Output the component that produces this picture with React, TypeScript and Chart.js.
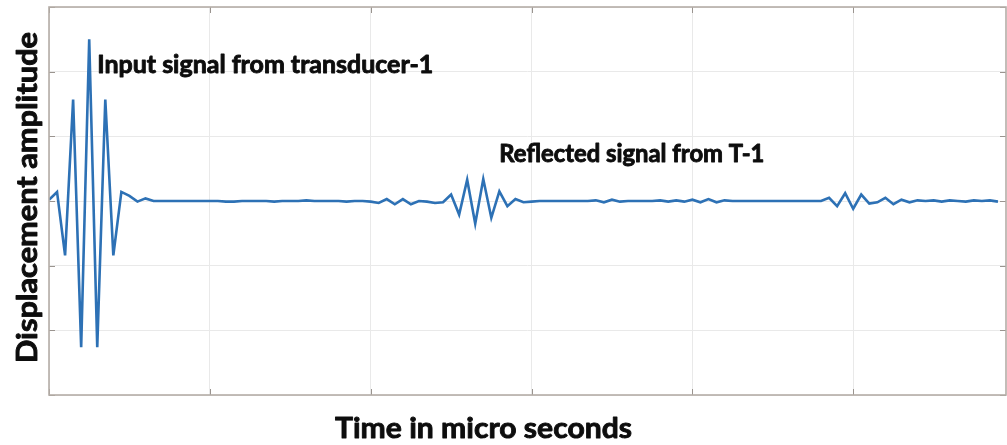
import React, { useEffect, useRef } from "react";
import { Chart, registerables } from "chart.js";

Chart.register(...registerables);

// ---- Data ----
const SAMPLE_STEP_US = 1; // one sample per microsecond (arbitrary time unit)
const displacement: number[] = [
  0.02, 0.14, -0.84, 1.57, -2.26, 2.5, -2.26, 1.57, -0.84, 0.14,
  0.08, -0.01, 0.04, 0, 0, 0, 0, 0, 0, 0,
  0, 0, -0.01, -0.01, 0, 0, 0, 0, -0.01, 0,
  0, 0, 0.01, 0, 0, 0, 0, -0.01, 0, 0,
  -0.01, -0.03, 0.03, -0.05, 0.03, -0.05, 0, -0.01, -0.03, -0.02,
  0.1, -0.21, 0.33, -0.35, 0.34, -0.26, 0.15, -0.08, 0.03, -0.02,
  -0.01, 0, 0, 0, 0, 0, 0, 0, 0.01, -0.02,
  0.02, -0.01, 0, 0, 0, 0, 0.01, -0.01, 0.01, -0.01,
  0.02, -0.02, 0.03, -0.02, 0.01, 0, 0, 0, 0, 0,
  0, 0, 0, 0, 0, 0, 0, 0.05, -0.08, 0.12,
  -0.12, 0.1, -0.04, -0.02, 0.05, -0.05, 0.02, -0.02, 0.01, 0,
  0.01, -0.01, 0.01, 0, -0.01, 0.01, 0, 0.01, -0.01,
];
const timeUs: number[] = displacement.map((_, i) => i * SAMPLE_STEP_US);

const X_GRID: number[] = [0, 20, 40, 60, 80, 100];
const Y_GRID: number[] = [-3, -2, -1, 0, 1, 2, 3];
const X_MIN = 0;
const X_MAX = 119;
const Y_MIN = -3;
const Y_MAX = 3;

const X_TITLE = "Time in micro seconds";
const Y_TITLE = "Displacement amplitude";
const NOTE_INPUT = "Input signal from transducer-1";
const NOTE_REFLECT = "Reflected signal from T-1";

// ---- Style ----
const LINE_COLOR = "#2d71b5";
const GRID_COLOR = "#e9e9e9";
const FRAME_COLOR = "#b5ada7";
const TICK_COLOR = "#9a948f";
const TEXT_COLOR = "#0d0d0d";
const FONT = "Lato";

function drawFitted(
  ctx: CanvasRenderingContext2D,
  text: string,
  x: number,
  y: number,
  width: number,
  size: number,
  rotate: boolean
) {
  ctx.save();
  ctx.translate(x, y);
  if (rotate) ctx.rotate(-Math.PI / 2);
  ctx.font = `bold ${size}px ${FONT}`;
  const w = ctx.measureText(text).width;
  ctx.scale(width / w, 1);
  ctx.textAlign = "left";
  ctx.textBaseline = "alphabetic";
  ctx.fillStyle = TEXT_COLOR;
  ctx.strokeStyle = TEXT_COLOR;
  ctx.lineWidth = 0.9;
  ctx.lineJoin = "round";
  ctx.fillText(text, 0, 0);
  ctx.strokeText(text, 0, 0);
  ctx.restore();
}

const framePlugin = {
  id: "matlabFrame",
  afterDatasetsDraw(chart: any) {
    const { ctx, chartArea, scales } = chart;
    const { left, right, top, bottom } = chartArea;
    ctx.save();
    // inward ticks on all four sides
    ctx.strokeStyle = TICK_COLOR;
    ctx.lineWidth = 1;
    const tl = 6;
    ctx.beginPath();
    X_GRID.forEach((v) => {
      const px = Math.round(scales.x.getPixelForValue(v)) + 0.5;
      ctx.moveTo(px, bottom);
      ctx.lineTo(px, bottom - tl);
      ctx.moveTo(px, top);
      ctx.lineTo(px, top + tl);
    });
    Y_GRID.forEach((v) => {
      const py = Math.round(scales.y.getPixelForValue(v)) + 0.5;
      ctx.moveTo(left, py);
      ctx.lineTo(left + tl, py);
      ctx.moveTo(right, py);
      ctx.lineTo(right - tl, py);
    });
    ctx.stroke();
    // box
    ctx.strokeStyle = FRAME_COLOR;
    ctx.lineWidth = 1.6;
    ctx.strokeRect(left, top, right - left, bottom - top);
    ctx.restore();
  },
  afterDraw(chart: any) {
    const { ctx, scales } = chart;
    drawFitted(ctx, NOTE_INPUT, scales.x.getPixelForValue(6), scales.y.getPixelForValue(1.98), 336, 25, false);
    drawFitted(ctx, NOTE_REFLECT, scales.x.getPixelForValue(56), scales.y.getPixelForValue(0.6), 265, 24, false);
    drawFitted(ctx, X_TITLE, 335, 438, 297, 29, false);
    drawFitted(ctx, Y_TITLE, 37, 363, 331, 28, true);
  },
};

export default function App() {
  const canvasRef = useRef<HTMLCanvasElement | null>(null);

  useEffect(() => {
    const canvas = canvasRef.current;
    if (!canvas) return;
    const chart = new Chart(canvas, {
      type: "line",
      data: {
        datasets: [
          {
            label: "Displacement",
            data: timeUs.map((t, i) => ({ x: t, y: displacement[i] })),
            borderColor: LINE_COLOR,
            borderWidth: 2.6,
            pointRadius: 0,
            tension: 0,
            fill: false,
          },
        ],
      },
      options: {
        responsive: false,
        animation: false,
        layout: { padding: { left: 49, top: 7, right: 1, bottom: 50 } },
        plugins: {
          legend: { display: false },
          tooltip: { enabled: false },
          title: { display: false },
        },
        scales: {
          x: {
            type: "linear",
            min: X_MIN,
            max: X_MAX,
            afterBuildTicks: (scale: any) => {
              scale.ticks = X_GRID.map((v) => ({ value: v }));
            },
            ticks: { display: false },
            grid: { color: GRID_COLOR, lineWidth: 1, drawTicks: false },
            border: { display: false },
          },
          y: {
            type: "linear",
            min: Y_MIN,
            max: Y_MAX,
            afterBuildTicks: (scale: any) => {
              scale.ticks = Y_GRID.map((v) => ({ value: v }));
            },
            ticks: { display: false },
            grid: { color: GRID_COLOR, lineWidth: 1, drawTicks: false },
            border: { display: false },
          },
        },
      },
      plugins: [framePlugin],
    });
    return () => chart.destroy();
  }, []);

  return (
    <div style={{ position: "fixed", left: 0, top: 0, width: 1007, height: 445, background: "#ffffff" }}>
      <canvas ref={canvasRef} width={1007} height={445} style={{ display: "block" }} />
    </div>
  );
}
